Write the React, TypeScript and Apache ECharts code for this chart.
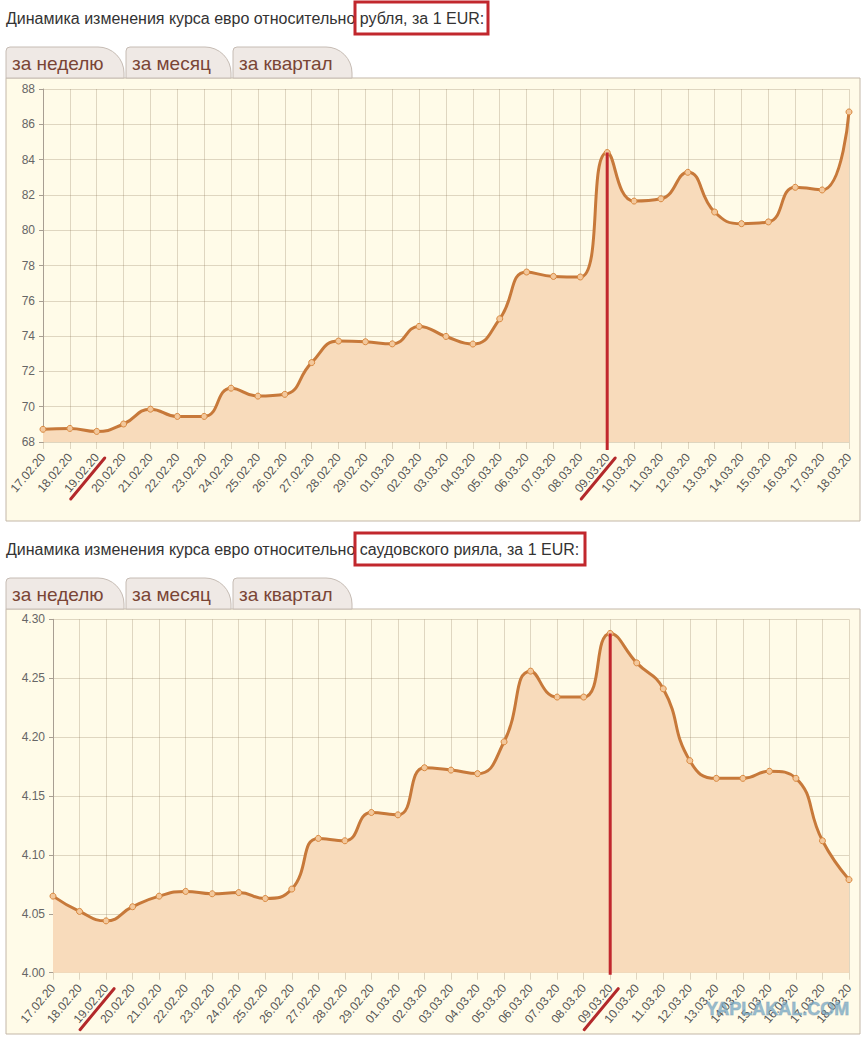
import React, { useEffect, useRef } from "react";
import * as echarts from "echarts";

const categories = [
  "17.02.20", "18.02.20", "19.02.20", "20.02.20", "21.02.20", "22.02.20", "23.02.20",
  "24.02.20", "25.02.20", "26.02.20", "27.02.20", "28.02.20", "29.02.20", "01.03.20",
  "02.03.20", "03.03.20", "04.03.20", "05.03.20", "06.03.20", "07.03.20", "08.03.20",
  "09.03.20", "10.03.20", "11.03.20", "12.03.20", "13.03.20", "14.03.20", "15.03.20",
  "16.03.20", "17.03.20", "18.03.20",
];

const rubValues = [
  68.72, 68.77, 68.6, 69.02, 69.86, 69.45, 69.45, 71.05, 70.6, 70.7, 72.5, 73.72, 73.68,
  73.56, 74.55, 73.98, 73.55, 74.98, 77.63, 77.38, 77.35, 84.4, 81.65, 81.78, 83.28, 81.03,
  80.37, 80.47, 82.43, 82.28, 86.7,
];

const sarValues = [
  4.065, 4.052, 4.044, 4.056, 4.065, 4.069, 4.067, 4.068, 4.063, 4.071, 4.114, 4.112, 4.136,
  4.134, 4.174, 4.172, 4.169, 4.196, 4.256, 4.234, 4.234, 4.288, 4.263, 4.241, 4.18, 4.165,
  4.165, 4.171, 4.165, 4.112, 4.079,
];

const rubAxis = { min: 68, max: 88, interval: 2, digits: 0 };
const sarAxis = { min: 4.0, max: 4.3, interval: 0.05, digits: 2 };

const markedIndex = 21;
const struckIndices = [2, 21];

const tabLabels = ["за неделю", "за месяц", "за квартал"];
const title1Lead = "Динамика изменения курса евро относительно ";
const title1Tail = "рубля, за 1 EUR:";
const title2Lead = "Динамика изменения курса евро относительно ";
const title2Tail = "саудовского рияла, за 1 EUR:";
const watermark = "YAPLAKAL.COM";

const FONT = "'Liberation Sans', Arial, sans-serif";
const BOX_BG = "#fffbe8";
const BOX_BORDER = "#c3b7a8";
const LINE_COLOR = "#c7793a";
const AREA_COLOR = "#f8dbbb";
const GRID_COLOR = "rgba(140,120,90,0.28)";
const RED = "#c1272d";

function headerGraphics(top: number, lead: string, tail: string, boxW: number, boxBottom: number) {
  const els: any[] = [];
  els.push({
    type: "rect",
    shape: { x: 6, y: top + 78, width: 854, height: boxBottom - (top + 78) },
    style: { fill: BOX_BG, stroke: BOX_BORDER, lineWidth: 1 },
    z: -10,
  });
  els.push({
    type: "text",
    style: {
      text: lead + tail,
      x: 6,
      y: top + 18,
      fontSize: 16,
      fontFamily: FONT,
      fill: "#333",
      verticalAlign: "middle",
    },
    z: 5,
  });
  els.push({
    type: "rect",
    shape: { x: 355, y: top + 2, width: boxW, height: 32 },
    style: { fill: "none", stroke: RED, lineWidth: 3 },
    z: 6,
  });
  const tabs = [
    { x: 6, w: 118 },
    { x: 126, w: 105 },
    { x: 233, w: 119 },
  ];
  tabs.forEach((t, i) => {
    els.push({
      type: "rect",
      shape: { x: t.x, y: top + 47, width: t.w, height: 31, r: [4, 26, 0, 0] },
      style: { fill: "#efe9e5", stroke: "#c6bcb4", lineWidth: 1 },
      z: -5,
    });
    els.push({
      type: "text",
      style: {
        text: tabLabels[i],
        x: t.x + 6,
        y: top + 63,
        fontSize: 19,
        fontFamily: FONT,
        fill: "#7a4535",
        verticalAlign: "middle",
      },
      z: 5,
    });
  });
  return els;
}

function redVertical(gridIdx: number, values: number[], yMin: number, extra: number) {
  return {
    type: "custom",
    xAxisIndex: gridIdx,
    yAxisIndex: gridIdx,
    data: [[markedIndex, values[markedIndex]]],
    z: 10,
    silent: true,
    renderItem: (_p: any, api: any) => {
      const top = api.coord([api.value(0), api.value(1)]);
      const base = api.coord([api.value(0), yMin]);
      return {
        type: "line",
        shape: { x1: top[0], y1: top[1], x2: top[0], y2: base[1] + extra },
        style: { stroke: RED, lineWidth: 3 },
      };
    },
  };
}

function redSlashes(gridIdx: number, yMin: number) {
  return {
    type: "custom",
    xAxisIndex: gridIdx,
    yAxisIndex: gridIdx,
    data: struckIndices.map((i) => [i, yMin]),
    z: 10,
    silent: true,
    renderItem: (_p: any, api: any) => {
      const p = api.coord([api.value(0), api.value(1)]);
      return {
        type: "line",
        shape: { x1: p[0] - 26, y1: p[1] + 57, x2: p[0] + 8, y2: p[1] + 16 },
        style: { stroke: "#b3292b", lineWidth: 3, lineCap: "round" },
      };
    },
  };
}

function xAxisDef(gridIndex: number) {
  return {
    type: "category",
    gridIndex,
    data: categories,
    boundaryGap: false,
    axisLine: { show: false },
    axisTick: { show: true, length: 7, lineStyle: { color: GRID_COLOR } },
    axisLabel: {
      rotate: 50,
      interval: 0,
      fontSize: 12,
      color: "#555",
      fontFamily: FONT,
      margin: 13,
    },
    splitLine: { show: true, lineStyle: { color: GRID_COLOR, width: 1 } },
  };
}

function yAxisDef(gridIndex: number, ax: typeof rubAxis) {
  return {
    type: "value",
    gridIndex,
    min: ax.min,
    max: ax.max,
    interval: ax.interval,
    axisLine: { show: true, lineStyle: { color: "#a89e92" } },
    axisTick: { show: true, length: 4, lineStyle: { color: "#a89e92" } },
    axisLabel: {
      fontSize: 12,
      color: "#666",
      fontFamily: FONT,
      margin: 8,
      formatter: (v: number) => v.toFixed(ax.digits),
    },
    splitLine: { show: true, lineStyle: { color: GRID_COLOR, width: 1 } },
  };
}

function lineSeries(gridIdx: number, values: number[]) {
  return {
    type: "line",
    xAxisIndex: gridIdx,
    yAxisIndex: gridIdx,
    data: values,
    smooth: 0.5,
    symbol: "circle",
    symbolSize: 6,
    showSymbol: true,
    lineStyle: { color: LINE_COLOR, width: 3 },
    itemStyle: { color: "#f3c89c", borderColor: "#d8883f", borderWidth: 1 },
    areaStyle: { color: AREA_COLOR, opacity: 1, origin: "start" },
    z: 3,
  };
}

export default function App() {
  const ref = useRef<HTMLDivElement>(null);
  useEffect(() => {
    document.body.style.margin = "0";
    if (!ref.current) return;
    const chart = echarts.init(ref.current, undefined, { renderer: "svg" });
    const option: any = {
      animation: false,
      backgroundColor: "#ffffff",
      textStyle: { fontFamily: FONT },
      grid: [
        { left: 43, right: 19, top: 89, height: 353, containLabel: false },
        { left: 53, right: 19, top: 619.3, height: 353.4, containLabel: false },
      ],
      xAxis: [xAxisDef(0), xAxisDef(1)],
      yAxis: [yAxisDef(0, rubAxis), yAxisDef(1, sarAxis)],
      series: [
        lineSeries(0, rubValues),
        lineSeries(1, sarValues),
        redVertical(0, rubValues, rubAxis.min, 8),
        redVertical(1, sarValues, sarAxis.min, 2),
        redSlashes(0, rubAxis.min),
        redSlashes(1, sarAxis.min),
      ],
      graphic: [
        ...headerGraphics(0, title1Lead, title1Tail, 133, 521),
        ...headerGraphics(531, title2Lead, title2Tail, 230, 1034),
        {
          type: "text",
          style: {
            text: watermark,
            x: 706,
            y: 1009,
            fontSize: 18,
            fontWeight: "bold",
            fontFamily: FONT,
            fill: "rgba(120,168,196,0.75)",
            stroke: "rgba(80,120,150,0.35)",
            lineWidth: 1,
            verticalAlign: "middle",
          },
          z: 20,
        },
      ],
    };
    chart.setOption(option);
    return () => chart.dispose();
  }, []);
  return (
    <div
      ref={ref}
      style={{ position: "absolute", left: 0, top: 0, width: 868, height: 1039 }}
    />
  );
}
